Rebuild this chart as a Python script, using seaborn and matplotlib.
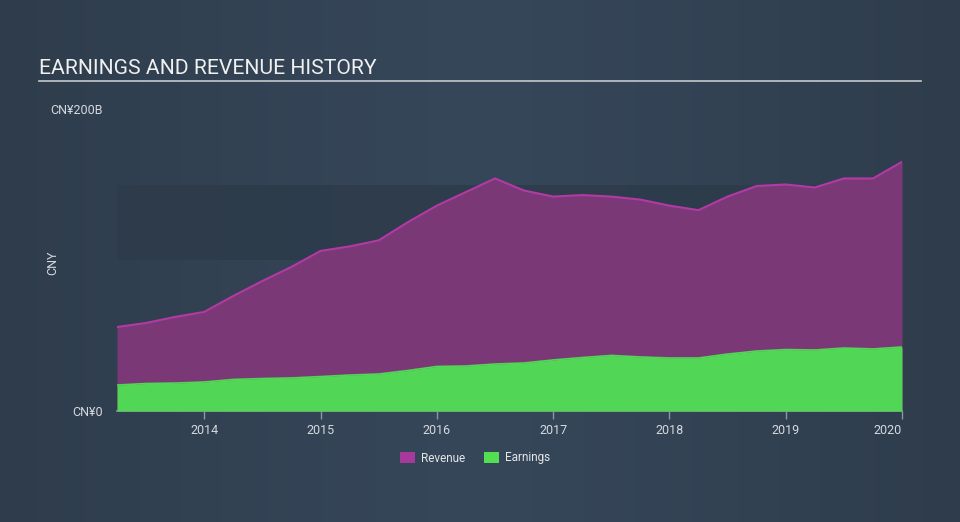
import numpy as np
import pandas as pd
import matplotlib
matplotlib.use("Agg")
import matplotlib.pyplot as plt
from matplotlib.patches import Patch
import seaborn as sns

# ---- data (CNY billions, quarterly trailing values) ----
quarters = [2013.25, 2013.5, 2013.75, 2014.0, 2014.25, 2014.5, 2014.75,
            2015.0, 2015.25, 2015.5, 2015.75, 2016.0, 2016.25, 2016.5,
            2016.75, 2017.0, 2017.25, 2017.5, 2017.75, 2018.0, 2018.25,
            2018.5, 2018.75, 2019.0, 2019.25, 2019.5, 2019.75, 2020.0]
revenue = [55.6, 58.3, 62.3, 65.6, 76.2, 86.1, 95.4,
           106.0, 109.0, 113.0, 125.0, 136.0, 145.0, 154.0,
           146.0, 142.0, 143.0, 142.0, 140.0, 136.0, 133.0,
           142.0, 149.0, 150.0, 148.0, 154.0, 154.0, 165.0]
earnings = [17.2, 18.2, 18.5, 19.2, 20.9, 21.5, 21.9,
            22.8, 23.8, 24.5, 26.8, 29.5, 29.8, 31.1,
            31.8, 33.8, 35.4, 36.8, 35.8, 35.1, 35.1,
            37.7, 39.7, 40.7, 40.4, 41.7, 41.1, 42.4]
year_ticks = [2014, 2015, 2016, 2017, 2018, 2019, 2020]
y_ticks = [0, 200]
y_tick_labels = ["CN¥0", "CN¥200B"]
band = (100, 150)

df = pd.DataFrame({"t": quarters, "Revenue": revenue, "Earnings": earnings})

plt.rcParams["font.family"] = ["Roboto", "DejaVu Sans"]

fig = plt.figure(figsize=(9.6, 5.22), dpi=100)
fig.patch.set_facecolor("#334252")

# background horizontal gradient
bg = fig.add_axes([0, 0, 1, 1], zorder=-10)
xs = np.linspace(0, 1, 256)
c_edge = np.array([0x2e, 0x3c, 0x4b]) / 255
c_mid = np.array([0x36, 0x47, 0x5a]) / 255
w = 1 - np.abs(xs - 0.5) * 2
w = w ** 0.8
grad = c_edge[None, :] * (1 - w[:, None]) + c_mid[None, :] * w[:, None]
bg.imshow(grad[None, :, :], aspect="auto", extent=[0, 1, 0, 1])
bg.set_axis_off()

ax = fig.add_axes([117 / 960, (522 - 411) / 522, (902 - 117) / 960, (411 - 109) / 522])
ax.set_facecolor("none")

purple_fill = "#7b3876"
purple_line = "#b33aa4"
green = "#52d656"

ax.axhspan(band[0], band[1], color="#2c3a49", alpha=0.75, zorder=0, lw=0)

ax.fill_between(df["t"], df["Revenue"], color=purple_fill, zorder=1, lw=0)
sns.lineplot(data=df, x="t", y="Revenue", ax=ax, color=purple_line, lw=1.5, zorder=2)
ax.fill_between(df["t"], df["Earnings"], color=green, zorder=3, lw=0)
sns.lineplot(data=df, x="t", y="Earnings", ax=ax, color=green, lw=1.2, zorder=4)

ax.set_xlim(quarters[0], 2020.0)
ax.set_ylim(0, 200)
ax.set_xticks(year_ticks)
ax.set_xticklabels([str(y) for y in year_ticks])
ax.set_yticks(y_ticks)
ax.set_yticklabels(y_tick_labels)
lbls = ax.get_xticklabels()
lbls[-1].set_horizontalalignment("right")

for s in ["top", "right", "left"]:
    ax.spines[s].set_visible(False)
ax.spines["bottom"].set_color("#8c96a0")
ax.spines["bottom"].set_linewidth(1.2)
ax.tick_params(axis="x", colors="#8c96a0", length=6, width=1, labelcolor="#d5d9de", labelsize=9, pad=3)
ax.tick_params(axis="y", length=0, labelcolor="#d5d9de", labelsize=9, pad=10)
ax.set_xlabel("")
ax.set_ylabel("CNY", color="#d5d9de", fontsize=9)
ax.yaxis.set_label_coords(-0.074, 0.49)
ax.grid(False)

# title and underline
fig.text(39 / 960, 1 - 68 / 522, "EARNINGS AND REVENUE HISTORY", color="#f0f0f0",
         fontsize=15.2, va="center", ha="left")
fig.add_artist(plt.Line2D([39 / 960, 921 / 960], [1 - 81 / 522, 1 - 81 / 522],
                          color="#c4c8cc", lw=1.2))

handles = [Patch(facecolor="#a63a9c", edgecolor="none", label="Revenue"),
           Patch(facecolor="#52e052", edgecolor="none", label="Earnings")]
leg = fig.legend(handles=handles, loc="center", bbox_to_anchor=(0.495, 1 - 458 / 522),
                 ncol=2, frameon=False, fontsize=8.5, handlelength=1.3, handleheight=1.1,
                 columnspacing=1.6, handletextpad=0.5)
for t in leg.get_texts():
    t.set_color("#e4e6e8")

fig.savefig("out.png", dpi=100, facecolor=fig.get_facecolor())
